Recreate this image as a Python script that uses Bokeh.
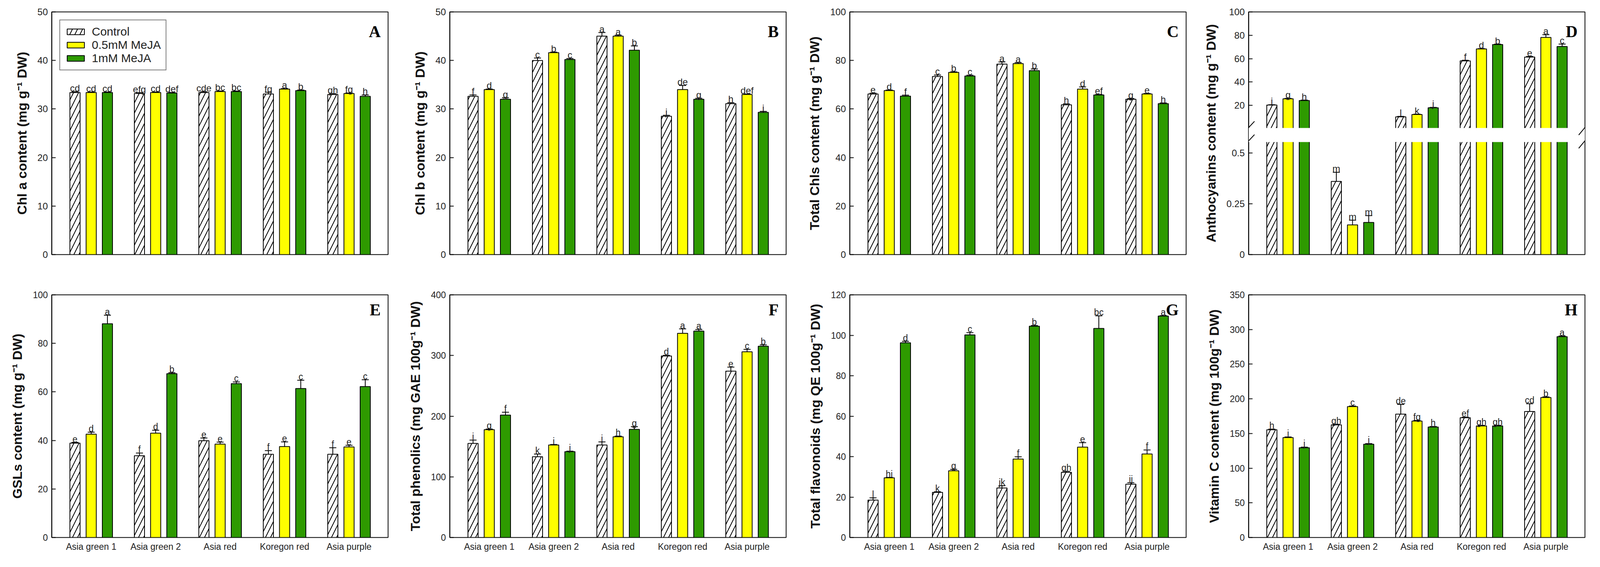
from bokeh.plotting import figure
from bokeh.models import (Range1d, FixedTicker, ColumnDataSource, Whisker, TeeHead,
                          Legend, LegendItem, Label, BoxAnnotation, Arrow)
from bokeh.layouts import column, row
from bokeh.embed import file_html
from bokeh.resources import INLINE
from bokeh.core.properties import value

cultivars = ["Asia green 1", "Asia green 2", "Asia red", "Koregon red", "Asia purple"]
treatments = ["Control", "0.5mM MeJA", "1mM MeJA"]

# ---- A: Chl a
A_ctrl = [33.4, 33.2, 33.4, 33.1, 33.0]
A_ctrl_err = [0.15, 0.15, 0.15, 0.35, 0.15]
A_ctrl_let = ["cd", "efg", "cde", "fg", "gh"]
A_low = [33.4, 33.4, 33.6, 34.1, 33.2]
A_low_err = [0.1, 0.1, 0.1, 0.1, 0.1]
A_low_let = ["cd", "cd", "bc", "a", "fg"]
A_high = [33.4, 33.3, 33.6, 33.8, 32.6]
A_high_err = [0.1, 0.1, 0.1, 0.1, 0.3]
A_high_let = ["cd", "def", "bc", "b", "h"]

# ---- B: Chl b
B_ctrl = [32.6, 40.0, 45.0, 28.5, 31.1]
B_ctrl_err = [0.3, 0.5, 0.75, 0.2, 0.2]
B_ctrl_let = ["f", "c", "a", "j", "h"]
B_low = [34.0, 41.6, 45.0, 34.0, 33.0]
B_low_err = [0.1, 0.1, 0.2, 0.85, 0.1]
B_low_let = ["d", "b", "a", "de", "def"]
B_high = [32.0, 40.2, 42.1, 32.0, 29.3]
B_high_err = [0.3, 0.2, 0.9, 0.2, 0.2]
B_high_let = ["g", "c", "b", "g", "i"]

# ---- C: Total Chls
C_ctrl = [66.2, 73.4, 78.5, 61.7, 64.0]
C_ctrl_err = [0.3, 0.6, 0.9, 0.4, 0.3]
C_ctrl_let = ["e", "c", "a", "h", "g"]
C_low = [67.6, 75.1, 78.7, 68.2, 66.2]
C_low_err = [0.2, 0.2, 0.4, 0.9, 0.2]
C_low_let = ["d", "b", "a", "d", "e"]
C_high = [65.3, 73.6, 75.8, 65.8, 62.2]
C_high_err = [0.4, 0.3, 0.7, 0.2, 0.3]
C_high_let = ["f", "c", "b", "ef", "h"]

# ---- D: Anthocyanins (broken axis)
D_ctrl = [20.3, 0.36, 10.2, 58.1, 61.4]
D_ctrl_err = [0.3, 0.045, 0.4, 0.5, 0.5]
D_ctrl_let = ["i", "m", "l", "f", "e"]
D_low = [25.7, 0.146, 12.2, 68.3, 78.2]
D_low_err = [0.3, 0.023, 0.3, 0.3, 2.3]
D_low_let = ["g", "m", "k", "d", "a"]
D_high = [24.2, 0.158, 18.0, 72.1, 70.4]
D_high_err = [0.3, 0.034, 0.3, 0.3, 2.1]
D_high_let = ["h", "m", "j", "b", "c"]
D_ticks = [0, 0.25, 0.5, 20, 40, 60, 80, 100]
D_tick_labels = ["0", "0.25", "0.5", "20", "40", "60", "80", "100"]

# ---- E: GSLs
E_ctrl = [38.9, 33.7, 39.9, 34.3, 34.3]
E_ctrl_err = [0.3, 1.1, 1.1, 1.5, 2.7]
E_ctrl_let = ["e", "f", "e", "f", "f"]
E_low = [42.6, 43.0, 38.5, 37.5, 37.3]
E_low_err = [0.8, 1.2, 0.8, 1.9, 0.7]
E_low_let = ["d", "d", "e", "e", "e"]
E_high = [88.1, 67.5, 63.4, 61.4, 62.2]
E_high_err = [3.5, 0.4, 0.7, 3.4, 2.8]
E_high_let = ["a", "b", "c", "c", "c"]

# ---- F: Total phenolics
F_ctrl = [155.1, 133.1, 152.5, 299.2, 274.2]
F_ctrl_err = [5.5, 4.4, 5.1, 1.0, 6.6]
F_ctrl_let = ["i", "k", "i", "d", "e"]
F_low = [177.8, 152.5, 166.1, 336.6, 306.1]
F_low_err = [1.0, 0.8, 1.0, 7.3, 4.0]
F_low_let = ["g", "i", "h", "a", "c"]
F_high = [201.7, 141.5, 178.2, 340.2, 315.3]
F_high_err = [4.8, 0.8, 4.4, 2.6, 2.2]
F_high_let = ["f", "j", "g", "a", "b"]

# ---- G: Total flavonoids
G_ctrl = [18.5, 22.3, 24.5, 32.2, 26.4]
G_ctrl_err = [1.1, 0.3, 1.1, 0.5, 0.7]
G_ctrl_let = ["l", "k", "jk", "gh", "ij"]
G_low = [29.5, 33.0, 38.8, 44.7, 41.3]
G_low_err = [0.2, 0.7, 1.1, 2.2, 2.0]
G_low_let = ["hi", "g", "f", "e", "f"]
G_high = [96.3, 100.2, 104.5, 103.4, 109.5]
G_high_err = [0.7, 1.1, 0.3, 6.2, 0.2]
G_high_let = ["d", "c", "b", "bc", "a"]

# ---- H: Vitamin C
H_ctrl = [155.4, 162.5, 177.9, 172.8, 181.7]
H_ctrl_err = [0.8, 0.8, 14.0, 0.8, 11.2]
H_ctrl_let = ["h", "gh", "de", "ef", "cd"]
H_low = [144.2, 188.8, 168.0, 160.9, 201.9]
H_low_err = [0.8, 0.8, 0.8, 0.8, 0.8]
H_low_let = ["i", "c", "fg", "gh", "b"]
H_high = [129.5, 134.6, 159.3, 160.9, 289.7]
H_high_err = [0.8, 0.8, 0.8, 0.8, 1.0]
H_high_let = ["j", "j", "h", "gh", "a"]

FONT = "Liberation Sans"
GREEN = "#2E9A00"
YELLOW = "#FFFF00"
OFFS = [-0.2515, 0.0, 0.2515]
BAR_W = 0.158
X0, X1 = 0.388, 5.606
PX_PER_X = 165.0
COL_BORDERS = [(132, 39), (119, 45), (118, 36), (124, 33)]
ROW_BORDERS = [(30, 40), (63, 60)]
STYLES = [
    dict(fill_color="white", hatch_pattern="/", hatch_color="black", hatch_weight=2, hatch_scale=26),
    dict(fill_color=YELLOW),
    dict(fill_color=GREEN),
]


# piecewise scale for the broken anthocyanin axis (screen px above frame bottom)
def d_scale(v):
    return v * 520.0 if v <= 0.6 else 322.0 + v * 2.99


def build(col_i, row_i, series, ylabel, ymax, ticks, tick_labels, letter,
          tf=None, legend=False):
    if tf is None:
        tf = lambda v: v
    lb, rb = COL_BORDERS[col_i]
    tb, bb = ROW_BORDERS[row_i]
    p = figure(frame_width=861, frame_height=621,
               min_border_left=lb, min_border_right=rb,
               min_border_top=tb, min_border_bottom=bb,
               x_range=Range1d(X0, X1), y_range=Range1d(0, tf(ymax)),
               output_backend="svg", toolbar_location=None,
               background_fill_color="white", border_fill_color="white",
               outline_line_color="black", outline_line_width=2)
    p.grid.visible = False
    fs = "24px" if row_i == 0 else "23px"
    rends = []
    for k, (vals, errs, lets) in enumerate(series):
        xs = [i + 1 + OFFS[k] for i in range(len(vals))]
        tops = [tf(v) for v in vals]
        his = [tf(v + e) for v, e in zip(vals, errs)]
        src = ColumnDataSource(dict(x=xs, top=tops, hi=his, lbl=lets))
        r = p.vbar(x="x", top="top", bottom=0, width=BAR_W, source=src,
                   line_color="black", line_width=2, **STYLES[k])
        rends.append(r)
        p.add_layout(Whisker(source=src, base="x", lower="top", upper="hi",
                             lower_head=None,
                             upper_head=TeeHead(size=18, line_width=2, line_color="black"),
                             line_width=2, line_color="black"))
        p.text(x="x", y="hi", text="lbl", source=src, text_align="center",
               text_baseline="alphabetic", y_offset=-9,
               text_font=value(FONT), text_font_size=fs, text_color="#222222")

    if tf is d_scale:
        p.add_layout(BoxAnnotation(bottom=288, top=324, fill_color="white",
                                   fill_alpha=1.0, line_color=None))
        for xe, a, b in [(X0, -18, 15), (X1, -16, 13)]:
            for y0 in (272, 306):
                p.add_layout(Arrow(x_start=xe + a / PX_PER_X, y_start=y0,
                                   x_end=xe + b / PX_PER_X, y_end=y0 + 35,
                                   start=None, end=None,
                                   line_width=2, line_color="black"))

    ya = p.yaxis[0]
    tpos = [tf(t) for t in ticks]
    ya.ticker = FixedTicker(ticks=tpos)
    ya.major_label_overrides = {tp: lab for tp, lab in zip(tpos, tick_labels)}
    ya.major_tick_in = 10
    ya.major_tick_out = 0
    ya.minor_tick_line_color = None
    ya.major_tick_line_width = 2
    ya.axis_line_width = 2
    ya.axis_line_color = "black"
    ya.major_label_standoff = 10
    ya.major_label_text_font = FONT
    ya.major_label_text_font_size = fs
    ya.major_label_text_color = "#222222"
    ya.axis_label = ylabel
    ya.axis_label_text_font = FONT
    ya.axis_label_text_font_style = "bold"
    ya.axis_label_text_font_size = "34px"
    ya.axis_label_text_color = "#111111"
    ya.axis_label_standoff = 18

    xa = p.xaxis[0]
    if row_i == 0:
        xa.visible = False
    else:
        xa.ticker = FixedTicker(ticks=[1, 2, 3, 4, 5])
        xa.major_label_overrides = {i + 1: c for i, c in enumerate(cultivars)}
        xa.major_tick_in = 0
        xa.major_tick_out = 0
        xa.minor_tick_line_color = None
        xa.axis_line_color = None
        xa.major_label_standoff = 10
        xa.major_label_text_font = FONT
        xa.major_label_text_font_size = "23px"
        xa.major_label_text_color = "#222222"

    p.add_layout(Label(x=X1, y=tf(ymax), text=letter, x_offset=-19,
                       y_offset=-27 if row_i == 0 else -15,
                       text_align="right", text_baseline="top",
                       text_font="Liberation Serif", text_font_style="bold",
                       text_font_size="42px", text_color="black"))

    if legend:
        lg = Legend(items=[LegendItem(label=treatments[k], renderers=[rends[k]]) for k in range(3)],
                    location="top_left", margin=20,
                    glyph_width=55, glyph_height=18,
                    label_standoff=14, padding=12, spacing=0,
                    label_height=28, label_width=150,
                    border_line_color="black", border_line_width=2,
                    background_fill_color="white", background_fill_alpha=1.0,
                    label_text_font=FONT, label_text_font_size="30px",
                    label_text_color="#222222")
        p.add_layout(lg)
    return p


sup = "\u207b\u00b9"
pA = build(0, 0, [(A_ctrl, A_ctrl_err, A_ctrl_let), (A_low, A_low_err, A_low_let), (A_high, A_high_err, A_high_let)],
           "Chl a content (mg g" + sup + " DW)", 50, [0, 10, 20, 30, 40, 50], ["0", "10", "20", "30", "40", "50"], "A", legend=True)
pB = build(1, 0, [(B_ctrl, B_ctrl_err, B_ctrl_let), (B_low, B_low_err, B_low_let), (B_high, B_high_err, B_high_let)],
           "Chl b content (mg g" + sup + " DW)", 50, [0, 10, 20, 30, 40, 50], ["0", "10", "20", "30", "40", "50"], "B")
pC = build(2, 0, [(C_ctrl, C_ctrl_err, C_ctrl_let), (C_low, C_low_err, C_low_let), (C_high, C_high_err, C_high_let)],
           "Total Chls content (mg g" + sup + " DW)", 100, [0, 20, 40, 60, 80, 100], ["0", "20", "40", "60", "80", "100"], "C")
pD = build(3, 0, [(D_ctrl, D_ctrl_err, D_ctrl_let), (D_low, D_low_err, D_low_let), (D_high, D_high_err, D_high_let)],
           "Anthocyanins content (mg g" + sup + " DW)", 100, D_ticks, D_tick_labels, "D", tf=d_scale)
pE = build(0, 1, [(E_ctrl, E_ctrl_err, E_ctrl_let), (E_low, E_low_err, E_low_let), (E_high, E_high_err, E_high_let)],
           "GSLs content (mg g" + sup + " DW)", 100, [0, 20, 40, 60, 80, 100], ["0", "20", "40", "60", "80", "100"], "E")
pF = build(1, 1, [(F_ctrl, F_ctrl_err, F_ctrl_let), (F_low, F_low_err, F_low_let), (F_high, F_high_err, F_high_let)],
           "Total phenolics (mg GAE 100g" + sup + " DW)", 400, [0, 100, 200, 300, 400], ["0", "100", "200", "300", "400"], "F")
pG = build(2, 1, [(G_ctrl, G_ctrl_err, G_ctrl_let), (G_low, G_low_err, G_low_let), (G_high, G_high_err, G_high_let)],
           "Total flavonoids (mg QE 100g" + sup + " DW)", 120, [0, 20, 40, 60, 80, 100, 120], ["0", "20", "40", "60", "80", "100", "120"], "G")
pH = build(3, 1, [(H_ctrl, H_ctrl_err, H_ctrl_let), (H_low, H_low_err, H_low_let), (H_high, H_high_err, H_high_let)],
           "Vitamin C content (mg 100g" + sup + " DW)", 350, [0, 50, 100, 150, 200, 250, 300, 350],
           ["0", "50", "100", "150", "200", "250", "300", "350"], "H")

layout = column(row(pA, pB, pC, pD), row(pE, pF, pG, pH))
open("out.html", "w").write(file_html(layout, INLINE))
